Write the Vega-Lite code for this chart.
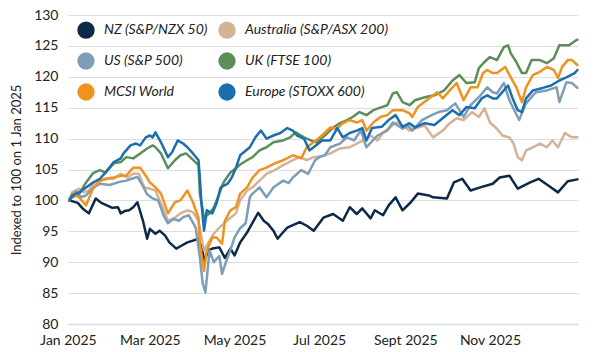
{
  "$schema": "https://vega.github.io/schema/vega-lite/v6.json",
  "width": 510,
  "height": 309,
  "autosize": "none",
  "padding": {"left": 68, "top": 15, "right": 22, "bottom": 28},
  "background": "white",
  "config": {
    "font": "Lato",
    "view": {"stroke": null},
    "axis": {"labelFont": "Lato", "titleFont": "Lato", "labelColor": "#222222", "titleColor": "#222222"}
  },
  "datasets": {
    "raw": [
      {"s":"NZ","d":"2025-01-02","v":100.0},{"s":"NZ","d":"2025-01-05","v":99.8},{"s":"NZ","d":"2025-01-08","v":99.6},{"s":"NZ","d":"2025-01-12","v":98.6},{"s":"NZ","d":"2025-01-16","v":97.9},{"s":"NZ","d":"2025-01-21","v":100.3},{"s":"NZ","d":"2025-01-25","v":99.6},{"s":"NZ","d":"2025-01-29","v":99.2},{"s":"NZ","d":"2025-02-02","v":98.8},{"s":"NZ","d":"2025-02-06","v":98.9},{"s":"NZ","d":"2025-02-08","v":97.9},{"s":"NZ","d":"2025-02-11","v":98.3},{"s":"NZ","d":"2025-02-14","v":98.4},{"s":"NZ","d":"2025-02-17","v":98.9},{"s":"NZ","d":"2025-02-20","v":99.7},{"s":"NZ","d":"2025-02-24","v":96.7},{"s":"NZ","d":"2025-02-27","v":93.8},{"s":"NZ","d":"2025-03-01","v":95.4},{"s":"NZ","d":"2025-03-05","v":94.6},{"s":"NZ","d":"2025-03-08","v":95.1},{"s":"NZ","d":"2025-03-12","v":94.3},{"s":"NZ","d":"2025-03-15","v":93.2},{"s":"NZ","d":"2025-03-20","v":92.2},{"s":"NZ","d":"2025-03-24","v":92.7},{"s":"NZ","d":"2025-03-28","v":93.2},{"s":"NZ","d":"2025-04-01","v":93.5},{"s":"NZ","d":"2025-04-05","v":93.8},{"s":"NZ","d":"2025-04-08","v":91.9},{"s":"NZ","d":"2025-04-09","v":90.0},{"s":"NZ","d":"2025-04-12","v":91.9},{"s":"NZ","d":"2025-04-15","v":92.2},{"s":"NZ","d":"2025-04-20","v":92.4},{"s":"NZ","d":"2025-04-24","v":90.7},{"s":"NZ","d":"2025-04-28","v":92.2},{"s":"NZ","d":"2025-05-01","v":91.1},{"s":"NZ","d":"2025-05-05","v":93.2},{"s":"NZ","d":"2025-05-10","v":94.8},{"s":"NZ","d":"2025-05-14","v":96.4},{"s":"NZ","d":"2025-05-18","v":98.0},{"s":"NZ","d":"2025-05-22","v":96.7},{"s":"NZ","d":"2025-05-25","v":96.2},{"s":"NZ","d":"2025-05-29","v":95.1},{"s":"NZ","d":"2025-06-01","v":93.8},{"s":"NZ","d":"2025-06-04","v":94.6},{"s":"NZ","d":"2025-06-08","v":95.6},{"s":"NZ","d":"2025-06-12","v":96.0},{"s":"NZ","d":"2025-06-17","v":96.5},{"s":"NZ","d":"2025-06-22","v":95.9},{"s":"NZ","d":"2025-06-27","v":95.1},{"s":"NZ","d":"2025-07-04","v":97.2},{"s":"NZ","d":"2025-07-11","v":97.8},{"s":"NZ","d":"2025-07-18","v":96.7},{"s":"NZ","d":"2025-07-23","v":98.9},{"s":"NZ","d":"2025-07-28","v":97.8},{"s":"NZ","d":"2025-08-01","v":98.7},{"s":"NZ","d":"2025-08-07","v":97.1},{"s":"NZ","d":"2025-08-10","v":98.4},{"s":"NZ","d":"2025-08-16","v":97.6},{"s":"NZ","d":"2025-08-20","v":99.2},{"s":"NZ","d":"2025-08-25","v":100.5},{"s":"NZ","d":"2025-08-30","v":98.4},{"s":"NZ","d":"2025-09-05","v":99.7},{"s":"NZ","d":"2025-09-10","v":101.1},{"s":"NZ","d":"2025-09-18","v":100.8},{"s":"NZ","d":"2025-09-21","v":100.5},{"s":"NZ","d":"2025-10-01","v":100.3},{"s":"NZ","d":"2025-10-06","v":102.9},{"s":"NZ","d":"2025-10-12","v":103.5},{"s":"NZ","d":"2025-10-18","v":101.6},{"s":"NZ","d":"2025-10-25","v":102.1},{"s":"NZ","d":"2025-11-03","v":102.7},{"s":"NZ","d":"2025-11-08","v":103.7},{"s":"NZ","d":"2025-11-15","v":104.0},{"s":"NZ","d":"2025-11-21","v":101.9},{"s":"NZ","d":"2025-11-30","v":102.9},{"s":"NZ","d":"2025-12-06","v":103.5},{"s":"NZ","d":"2025-12-13","v":102.4},{"s":"NZ","d":"2025-12-20","v":101.3},{"s":"NZ","d":"2025-12-27","v":103.1},{"s":"NZ","d":"2026-01-03","v":103.4},

      {"s":"AU","d":"2025-01-02","v":100.0},{"s":"AU","d":"2025-01-04","v":101.3},{"s":"AU","d":"2025-01-09","v":101.9},{"s":"AU","d":"2025-01-12","v":101.3},{"s":"AU","d":"2025-01-16","v":101.6},{"s":"AU","d":"2025-01-20","v":102.9},{"s":"AU","d":"2025-01-25","v":103.2},{"s":"AU","d":"2025-01-30","v":103.5},{"s":"AU","d":"2025-02-03","v":103.5},{"s":"AU","d":"2025-02-08","v":104.3},{"s":"AU","d":"2025-02-13","v":103.7},{"s":"AU","d":"2025-02-17","v":104.3},{"s":"AU","d":"2025-02-21","v":104.3},{"s":"AU","d":"2025-02-25","v":102.1},{"s":"AU","d":"2025-03-01","v":101.9},{"s":"AU","d":"2025-03-05","v":101.6},{"s":"AU","d":"2025-03-09","v":99.5},{"s":"AU","d":"2025-03-14","v":96.7},{"s":"AU","d":"2025-03-19","v":97.2},{"s":"AU","d":"2025-03-23","v":97.9},{"s":"AU","d":"2025-03-28","v":98.4},{"s":"AU","d":"2025-04-01","v":98.1},{"s":"AU","d":"2025-04-05","v":96.7},{"s":"AU","d":"2025-04-08","v":93.0},{"s":"AU","d":"2025-04-09","v":91.9},{"s":"AU","d":"2025-04-13","v":93.5},{"s":"AU","d":"2025-04-16","v":94.6},{"s":"AU","d":"2025-04-20","v":95.6},{"s":"AU","d":"2025-04-24","v":96.4},{"s":"AU","d":"2025-04-28","v":97.2},{"s":"AU","d":"2025-05-02","v":97.9},{"s":"AU","d":"2025-05-05","v":100.0},{"s":"AU","d":"2025-05-10","v":101.6},{"s":"AU","d":"2025-05-14","v":102.1},{"s":"AU","d":"2025-05-19","v":103.2},{"s":"AU","d":"2025-05-24","v":104.3},{"s":"AU","d":"2025-05-30","v":104.9},{"s":"AU","d":"2025-06-05","v":105.7},{"s":"AU","d":"2025-06-12","v":106.5},{"s":"AU","d":"2025-06-17","v":107.0},{"s":"AU","d":"2025-06-22","v":106.5},{"s":"AU","d":"2025-06-27","v":107.0},{"s":"AU","d":"2025-07-03","v":107.2},{"s":"AU","d":"2025-07-09","v":107.6},{"s":"AU","d":"2025-07-16","v":108.4},{"s":"AU","d":"2025-07-23","v":108.6},{"s":"AU","d":"2025-07-28","v":109.2},{"s":"AU","d":"2025-08-02","v":109.7},{"s":"AU","d":"2025-08-07","v":110.5},{"s":"AU","d":"2025-08-12","v":109.7},{"s":"AU","d":"2025-08-16","v":111.0},{"s":"AU","d":"2025-08-21","v":111.8},{"s":"AU","d":"2025-08-25","v":112.6},{"s":"AU","d":"2025-08-30","v":112.1},{"s":"AU","d":"2025-09-04","v":111.3},{"s":"AU","d":"2025-09-10","v":111.8},{"s":"AU","d":"2025-09-15","v":112.1},{"s":"AU","d":"2025-09-21","v":110.2},{"s":"AU","d":"2025-09-28","v":111.3},{"s":"AU","d":"2025-10-03","v":112.5},{"s":"AU","d":"2025-10-08","v":113.3},{"s":"AU","d":"2025-10-13","v":113.0},{"s":"AU","d":"2025-10-19","v":114.3},{"s":"AU","d":"2025-10-24","v":113.5},{"s":"AU","d":"2025-10-28","v":114.9},{"s":"AU","d":"2025-11-01","v":112.6},{"s":"AU","d":"2025-11-06","v":111.6},{"s":"AU","d":"2025-11-10","v":110.5},{"s":"AU","d":"2025-11-15","v":110.2},{"s":"AU","d":"2025-11-18","v":109.2},{"s":"AU","d":"2025-11-21","v":107.0},{"s":"AU","d":"2025-11-24","v":106.5},{"s":"AU","d":"2025-11-27","v":108.1},{"s":"AU","d":"2025-12-02","v":108.6},{"s":"AU","d":"2025-12-07","v":109.2},{"s":"AU","d":"2025-12-12","v":108.6},{"s":"AU","d":"2025-12-16","v":109.7},{"s":"AU","d":"2025-12-20","v":108.6},{"s":"AU","d":"2025-12-25","v":110.9},{"s":"AU","d":"2025-12-30","v":110.2},{"s":"AU","d":"2026-01-03","v":110.2},

      {"s":"US","d":"2025-01-02","v":100.3},{"s":"US","d":"2025-01-07","v":101.5},{"s":"US","d":"2025-01-10","v":100.5},{"s":"US","d":"2025-01-14","v":100.8},{"s":"US","d":"2025-01-19","v":102.0},{"s":"US","d":"2025-01-24","v":102.7},{"s":"US","d":"2025-01-31","v":102.5},{"s":"US","d":"2025-02-07","v":103.0},{"s":"US","d":"2025-02-12","v":103.2},{"s":"US","d":"2025-02-16","v":103.5},{"s":"US","d":"2025-02-20","v":103.8},{"s":"US","d":"2025-02-24","v":102.3},{"s":"US","d":"2025-02-27","v":101.0},{"s":"US","d":"2025-03-03","v":100.3},{"s":"US","d":"2025-03-07","v":100.0},{"s":"US","d":"2025-03-11","v":97.5},{"s":"US","d":"2025-03-14","v":96.3},{"s":"US","d":"2025-03-18","v":97.0},{"s":"US","d":"2025-03-22","v":96.7},{"s":"US","d":"2025-03-25","v":97.3},{"s":"US","d":"2025-03-29","v":97.6},{"s":"US","d":"2025-03-31","v":96.8},{"s":"US","d":"2025-04-03","v":95.6},{"s":"US","d":"2025-04-06","v":90.8},{"s":"US","d":"2025-04-08","v":86.6},{"s":"US","d":"2025-04-10","v":85.1},{"s":"US","d":"2025-04-13","v":91.9},{"s":"US","d":"2025-04-16","v":90.0},{"s":"US","d":"2025-04-20","v":91.0},{"s":"US","d":"2025-04-22","v":88.1},{"s":"US","d":"2025-04-24","v":89.5},{"s":"US","d":"2025-04-28","v":92.0},{"s":"US","d":"2025-05-01","v":94.0},{"s":"US","d":"2025-05-05","v":95.5},{"s":"US","d":"2025-05-09","v":96.3},{"s":"US","d":"2025-05-12","v":100.5},{"s":"US","d":"2025-05-14","v":101.1},{"s":"US","d":"2025-05-19","v":102.1},{"s":"US","d":"2025-05-24","v":100.5},{"s":"US","d":"2025-05-29","v":102.1},{"s":"US","d":"2025-06-05","v":103.2},{"s":"US","d":"2025-06-09","v":102.8},{"s":"US","d":"2025-06-12","v":103.7},{"s":"US","d":"2025-06-18","v":104.9},{"s":"US","d":"2025-06-23","v":104.3},{"s":"US","d":"2025-06-28","v":106.5},{"s":"US","d":"2025-07-01","v":107.0},{"s":"US","d":"2025-07-05","v":107.3},{"s":"US","d":"2025-07-09","v":108.6},{"s":"US","d":"2025-07-16","v":109.2},{"s":"US","d":"2025-07-21","v":110.2},{"s":"US","d":"2025-07-26","v":109.7},{"s":"US","d":"2025-07-31","v":111.3},{"s":"US","d":"2025-08-04","v":108.6},{"s":"US","d":"2025-08-12","v":110.5},{"s":"US","d":"2025-08-19","v":111.3},{"s":"US","d":"2025-08-23","v":112.6},{"s":"US","d":"2025-08-30","v":111.6},{"s":"US","d":"2025-09-03","v":112.1},{"s":"US","d":"2025-09-06","v":111.3},{"s":"US","d":"2025-09-13","v":113.0},{"s":"US","d":"2025-09-20","v":113.8},{"s":"US","d":"2025-09-25","v":114.3},{"s":"US","d":"2025-10-01","v":114.6},{"s":"US","d":"2025-10-07","v":115.7},{"s":"US","d":"2025-10-13","v":113.5},{"s":"US","d":"2025-10-18","v":115.4},{"s":"US","d":"2025-10-24","v":116.7},{"s":"US","d":"2025-10-30","v":118.3},{"s":"US","d":"2025-11-03","v":117.5},{"s":"US","d":"2025-11-06","v":117.3},{"s":"US","d":"2025-11-11","v":119.0},{"s":"US","d":"2025-11-15","v":116.2},{"s":"US","d":"2025-11-22","v":113.0},{"s":"US","d":"2025-11-27","v":115.7},{"s":"US","d":"2025-12-04","v":117.5},{"s":"US","d":"2025-12-12","v":117.8},{"s":"US","d":"2025-12-19","v":118.3},{"s":"US","d":"2025-12-21","v":115.9},{"s":"US","d":"2025-12-26","v":119.1},{"s":"US","d":"2025-12-30","v":119.0},{"s":"US","d":"2026-01-03","v":118.2},

      {"s":"UK","d":"2025-01-02","v":100.0},{"s":"UK","d":"2025-01-04","v":100.5},{"s":"UK","d":"2025-01-09","v":101.0},{"s":"UK","d":"2025-01-14","v":102.9},{"s":"UK","d":"2025-01-19","v":104.4},{"s":"UK","d":"2025-01-24","v":104.9},{"s":"UK","d":"2025-01-28","v":104.5},{"s":"UK","d":"2025-02-03","v":106.0},{"s":"UK","d":"2025-02-08","v":106.2},{"s":"UK","d":"2025-02-12","v":107.0},{"s":"UK","d":"2025-02-17","v":106.8},{"s":"UK","d":"2025-02-22","v":107.6},{"s":"UK","d":"2025-02-27","v":108.4},{"s":"UK","d":"2025-03-03","v":108.9},{"s":"UK","d":"2025-03-05","v":108.6},{"s":"UK","d":"2025-03-09","v":107.6},{"s":"UK","d":"2025-03-14","v":105.2},{"s":"UK","d":"2025-03-19","v":106.5},{"s":"UK","d":"2025-03-23","v":107.3},{"s":"UK","d":"2025-03-27","v":107.6},{"s":"UK","d":"2025-03-30","v":107.0},{"s":"UK","d":"2025-04-05","v":105.7},{"s":"UK","d":"2025-04-06","v":101.1},{"s":"UK","d":"2025-04-09","v":97.2},{"s":"UK","d":"2025-04-13","v":97.9},{"s":"UK","d":"2025-04-16","v":98.8},{"s":"UK","d":"2025-04-20","v":101.1},{"s":"UK","d":"2025-04-23","v":102.9},{"s":"UK","d":"2025-04-28","v":104.5},{"s":"UK","d":"2025-05-02","v":105.2},{"s":"UK","d":"2025-05-05","v":105.8},{"s":"UK","d":"2025-05-10","v":106.5},{"s":"UK","d":"2025-05-14","v":107.0},{"s":"UK","d":"2025-05-19","v":108.1},{"s":"UK","d":"2025-05-24","v":108.6},{"s":"UK","d":"2025-05-29","v":109.4},{"s":"UK","d":"2025-06-05","v":109.7},{"s":"UK","d":"2025-06-10","v":110.2},{"s":"UK","d":"2025-06-14","v":111.0},{"s":"UK","d":"2025-06-20","v":110.2},{"s":"UK","d":"2025-06-25","v":109.7},{"s":"UK","d":"2025-06-29","v":109.4},{"s":"UK","d":"2025-07-05","v":110.5},{"s":"UK","d":"2025-07-11","v":111.8},{"s":"UK","d":"2025-07-16","v":112.5},{"s":"UK","d":"2025-07-21","v":113.0},{"s":"UK","d":"2025-07-25","v":113.5},{"s":"UK","d":"2025-07-30","v":114.3},{"s":"UK","d":"2025-08-04","v":113.8},{"s":"UK","d":"2025-08-09","v":114.6},{"s":"UK","d":"2025-08-15","v":115.1},{"s":"UK","d":"2025-08-19","v":115.4},{"s":"UK","d":"2025-08-23","v":117.3},{"s":"UK","d":"2025-08-26","v":117.5},{"s":"UK","d":"2025-08-30","v":115.9},{"s":"UK","d":"2025-09-04","v":115.4},{"s":"UK","d":"2025-09-08","v":116.2},{"s":"UK","d":"2025-09-15","v":116.7},{"s":"UK","d":"2025-09-22","v":117.0},{"s":"UK","d":"2025-09-29","v":117.8},{"s":"UK","d":"2025-10-05","v":119.4},{"s":"UK","d":"2025-10-10","v":120.3},{"s":"UK","d":"2025-10-15","v":119.0},{"s":"UK","d":"2025-10-21","v":119.1},{"s":"UK","d":"2025-10-24","v":121.4},{"s":"UK","d":"2025-10-28","v":122.4},{"s":"UK","d":"2025-11-01","v":123.2},{"s":"UK","d":"2025-11-06","v":122.7},{"s":"UK","d":"2025-11-11","v":124.8},{"s":"UK","d":"2025-11-14","v":125.1},{"s":"UK","d":"2025-11-16","v":123.8},{"s":"UK","d":"2025-11-20","v":122.4},{"s":"UK","d":"2025-11-24","v":120.6},{"s":"UK","d":"2025-11-27","v":120.6},{"s":"UK","d":"2025-12-01","v":122.7},{"s":"UK","d":"2025-12-07","v":122.7},{"s":"UK","d":"2025-12-12","v":122.2},{"s":"UK","d":"2025-12-17","v":123.0},{"s":"UK","d":"2025-12-21","v":125.1},{"s":"UK","d":"2025-12-28","v":125.1},{"s":"UK","d":"2026-01-02","v":125.9},{"s":"UK","d":"2026-01-03","v":126.0},

      {"s":"MSCI","d":"2025-01-02","v":100.0},{"s":"MSCI","d":"2025-01-04","v":101.1},{"s":"MSCI","d":"2025-01-09","v":100.5},{"s":"MSCI","d":"2025-01-14","v":99.2},{"s":"MSCI","d":"2025-01-19","v":101.9},{"s":"MSCI","d":"2025-01-24","v":103.2},{"s":"MSCI","d":"2025-01-28","v":103.5},{"s":"MSCI","d":"2025-02-03","v":103.7},{"s":"MSCI","d":"2025-02-08","v":104.0},{"s":"MSCI","d":"2025-02-12","v":104.0},{"s":"MSCI","d":"2025-02-17","v":105.3},{"s":"MSCI","d":"2025-02-22","v":105.3},{"s":"MSCI","d":"2025-02-26","v":104.0},{"s":"MSCI","d":"2025-03-01","v":102.9},{"s":"MSCI","d":"2025-03-05","v":102.1},{"s":"MSCI","d":"2025-03-09","v":101.1},{"s":"MSCI","d":"2025-03-14","v":97.9},{"s":"MSCI","d":"2025-03-19","v":99.7},{"s":"MSCI","d":"2025-03-23","v":100.0},{"s":"MSCI","d":"2025-03-28","v":101.6},{"s":"MSCI","d":"2025-04-01","v":99.7},{"s":"MSCI","d":"2025-04-05","v":97.2},{"s":"MSCI","d":"2025-04-06","v":93.0},{"s":"MSCI","d":"2025-04-09","v":88.6},{"s":"MSCI","d":"2025-04-11","v":91.9},{"s":"MSCI","d":"2025-04-15","v":94.0},{"s":"MSCI","d":"2025-04-18","v":94.0},{"s":"MSCI","d":"2025-04-22","v":93.0},{"s":"MSCI","d":"2025-04-24","v":96.7},{"s":"MSCI","d":"2025-04-28","v":98.4},{"s":"MSCI","d":"2025-05-02","v":98.9},{"s":"MSCI","d":"2025-05-05","v":101.1},{"s":"MSCI","d":"2025-05-10","v":102.1},{"s":"MSCI","d":"2025-05-14","v":103.7},{"s":"MSCI","d":"2025-05-19","v":104.9},{"s":"MSCI","d":"2025-05-24","v":105.3},{"s":"MSCI","d":"2025-05-30","v":106.0},{"s":"MSCI","d":"2025-06-05","v":106.5},{"s":"MSCI","d":"2025-06-12","v":107.3},{"s":"MSCI","d":"2025-06-18","v":106.8},{"s":"MSCI","d":"2025-06-22","v":108.6},{"s":"MSCI","d":"2025-06-27","v":109.4},{"s":"MSCI","d":"2025-07-03","v":110.5},{"s":"MSCI","d":"2025-07-09","v":111.8},{"s":"MSCI","d":"2025-07-14","v":111.6},{"s":"MSCI","d":"2025-07-18","v":112.5},{"s":"MSCI","d":"2025-07-23","v":113.0},{"s":"MSCI","d":"2025-07-28","v":112.6},{"s":"MSCI","d":"2025-08-01","v":113.0},{"s":"MSCI","d":"2025-08-04","v":111.3},{"s":"MSCI","d":"2025-08-09","v":112.6},{"s":"MSCI","d":"2025-08-14","v":113.5},{"s":"MSCI","d":"2025-08-19","v":113.8},{"s":"MSCI","d":"2025-08-23","v":114.6},{"s":"MSCI","d":"2025-08-30","v":114.6},{"s":"MSCI","d":"2025-09-04","v":114.1},{"s":"MSCI","d":"2025-09-06","v":113.5},{"s":"MSCI","d":"2025-09-10","v":115.1},{"s":"MSCI","d":"2025-09-18","v":116.5},{"s":"MSCI","d":"2025-09-24","v":117.5},{"s":"MSCI","d":"2025-09-28","v":116.5},{"s":"MSCI","d":"2025-10-03","v":117.8},{"s":"MSCI","d":"2025-10-08","v":119.0},{"s":"MSCI","d":"2025-10-13","v":116.2},{"s":"MSCI","d":"2025-10-18","v":118.3},{"s":"MSCI","d":"2025-10-23","v":118.3},{"s":"MSCI","d":"2025-10-27","v":120.6},{"s":"MSCI","d":"2025-10-30","v":121.1},{"s":"MSCI","d":"2025-11-03","v":120.6},{"s":"MSCI","d":"2025-11-06","v":120.6},{"s":"MSCI","d":"2025-11-12","v":121.6},{"s":"MSCI","d":"2025-11-15","v":120.3},{"s":"MSCI","d":"2025-11-20","v":118.3},{"s":"MSCI","d":"2025-11-24","v":115.9},{"s":"MSCI","d":"2025-11-27","v":118.3},{"s":"MSCI","d":"2025-12-02","v":120.3},{"s":"MSCI","d":"2025-12-07","v":120.8},{"s":"MSCI","d":"2025-12-12","v":121.6},{"s":"MSCI","d":"2025-12-17","v":121.1},{"s":"MSCI","d":"2025-12-20","v":119.8},{"s":"MSCI","d":"2025-12-23","v":121.6},{"s":"MSCI","d":"2025-12-27","v":122.7},{"s":"MSCI","d":"2025-12-30","v":122.7},{"s":"MSCI","d":"2026-01-03","v":121.9},

      {"s":"EU","d":"2025-01-02","v":100.0},{"s":"EU","d":"2025-01-04","v":100.8},{"s":"EU","d":"2025-01-09","v":101.3},{"s":"EU","d":"2025-01-14","v":102.1},{"s":"EU","d":"2025-01-19","v":102.9},{"s":"EU","d":"2025-01-24","v":103.5},{"s":"EU","d":"2025-01-28","v":104.5},{"s":"EU","d":"2025-02-03","v":106.2},{"s":"EU","d":"2025-02-08","v":106.8},{"s":"EU","d":"2025-02-10","v":107.6},{"s":"EU","d":"2025-02-15","v":108.9},{"s":"EU","d":"2025-02-19","v":109.2},{"s":"EU","d":"2025-02-22","v":108.9},{"s":"EU","d":"2025-02-26","v":110.2},{"s":"EU","d":"2025-03-01","v":110.5},{"s":"EU","d":"2025-03-03","v":110.2},{"s":"EU","d":"2025-03-05","v":111.0},{"s":"EU","d":"2025-03-09","v":109.4},{"s":"EU","d":"2025-03-14","v":107.0},{"s":"EU","d":"2025-03-17","v":107.8},{"s":"EU","d":"2025-03-21","v":109.7},{"s":"EU","d":"2025-03-25","v":109.2},{"s":"EU","d":"2025-03-28","v":108.6},{"s":"EU","d":"2025-04-01","v":107.6},{"s":"EU","d":"2025-04-05","v":106.5},{"s":"EU","d":"2025-04-06","v":103.7},{"s":"EU","d":"2025-04-07","v":100.0},{"s":"EU","d":"2025-04-09","v":95.1},{"s":"EU","d":"2025-04-11","v":98.4},{"s":"EU","d":"2025-04-15","v":97.9},{"s":"EU","d":"2025-04-18","v":99.5},{"s":"EU","d":"2025-04-21","v":102.1},{"s":"EU","d":"2025-04-26","v":102.7},{"s":"EU","d":"2025-04-29","v":103.7},{"s":"EU","d":"2025-05-02","v":105.3},{"s":"EU","d":"2025-05-05","v":107.3},{"s":"EU","d":"2025-05-12","v":108.6},{"s":"EU","d":"2025-05-16","v":110.2},{"s":"EU","d":"2025-05-20","v":111.3},{"s":"EU","d":"2025-05-24","v":110.0},{"s":"EU","d":"2025-05-29","v":110.5},{"s":"EU","d":"2025-06-03","v":110.9},{"s":"EU","d":"2025-06-08","v":111.7},{"s":"EU","d":"2025-06-12","v":111.3},{"s":"EU","d":"2025-06-15","v":110.5},{"s":"EU","d":"2025-06-20","v":110.0},{"s":"EU","d":"2025-06-24","v":108.1},{"s":"EU","d":"2025-06-27","v":108.6},{"s":"EU","d":"2025-07-03","v":109.7},{"s":"EU","d":"2025-07-09","v":109.7},{"s":"EU","d":"2025-07-14","v":111.7},{"s":"EU","d":"2025-07-18","v":110.2},{"s":"EU","d":"2025-07-23","v":110.9},{"s":"EU","d":"2025-07-28","v":111.3},{"s":"EU","d":"2025-08-01","v":111.7},{"s":"EU","d":"2025-08-04","v":109.7},{"s":"EU","d":"2025-08-08","v":111.7},{"s":"EU","d":"2025-08-15","v":111.9},{"s":"EU","d":"2025-08-20","v":113.0},{"s":"EU","d":"2025-08-25","v":113.8},{"s":"EU","d":"2025-08-30","v":111.9},{"s":"EU","d":"2025-09-04","v":112.5},{"s":"EU","d":"2025-09-08","v":111.8},{"s":"EU","d":"2025-09-15","v":112.5},{"s":"EU","d":"2025-09-22","v":112.2},{"s":"EU","d":"2025-09-29","v":113.5},{"s":"EU","d":"2025-10-05","v":114.6},{"s":"EU","d":"2025-10-10","v":113.8},{"s":"EU","d":"2025-10-15","v":115.1},{"s":"EU","d":"2025-10-21","v":114.9},{"s":"EU","d":"2025-10-26","v":116.5},{"s":"EU","d":"2025-10-30","v":117.0},{"s":"EU","d":"2025-11-03","v":116.5},{"s":"EU","d":"2025-11-06","v":116.5},{"s":"EU","d":"2025-11-14","v":118.6},{"s":"EU","d":"2025-11-17","v":116.7},{"s":"EU","d":"2025-11-21","v":114.6},{"s":"EU","d":"2025-11-24","v":114.3},{"s":"EU","d":"2025-11-27","v":116.5},{"s":"EU","d":"2025-12-02","v":117.8},{"s":"EU","d":"2025-12-09","v":118.2},{"s":"EU","d":"2025-12-15","v":118.6},{"s":"EU","d":"2025-12-21","v":119.4},{"s":"EU","d":"2025-12-26","v":119.9},{"s":"EU","d":"2026-01-01","v":120.6},{"s":"EU","d":"2026-01-03","v":121.1}
    ],
    "names": [
      {"s":"NZ","name":"NZ (S&P/NZX 50)"},
      {"s":"AU","name":"Australia (S&P/ASX 200)"},
      {"s":"US","name":"US (S&P 500)"},
      {"s":"UK","name":"UK (FTSE 100)"},
      {"s":"MSCI","name":"MCSI World"},
      {"s":"EU","name":"Europe (STOXX 600)"}
    ]
  },
  "data": {"name": "raw"},
  "transform": [
    {"lookup": "s", "from": {"data": {"name": "names"}, "key": "s", "fields": ["name"]}}
  ],
  "mark": {"type": "line", "strokeWidth": 2.5, "strokeJoin": "round", "strokeCap": "round"},
  "encoding": {
    "x": {
      "field": "d", "type": "temporal",
      "scale": {"type": "utc", "domain": [{"year": 2025, "month": 1, "date": 1, "utc": true}, {"year": 2026, "month": 1, "date": 3, "hours": 10, "utc": true}]},
      "axis": {
        "title": null,
        "grid": false,
        "ticks": false,
        "domain": true,
        "domainColor": "#d3deed",
        "domainWidth": 1.5,
        "labelFontSize": 14,
        "labelPadding": 9,
        "labelFlush": false,
        "labelOverlap": false,
        "values": [
          {"year": 2025, "month": 1, "date": 1, "utc": true},
          {"year": 2025, "month": 3, "date": 1, "utc": true},
          {"year": 2025, "month": 5, "date": 1, "utc": true},
          {"year": 2025, "month": 7, "date": 1, "utc": true},
          {"year": 2025, "month": 9, "date": 1, "utc": true},
          {"year": 2025, "month": 11, "date": 1, "utc": true}
        ],
        "labelExpr": "utcFormat(datum.value, '%m') == '09' ? 'Sept ' + utcFormat(datum.value, '%Y') : utcFormat(datum.value, '%b %Y')"
      }
    },
    "y": {
      "field": "v", "type": "quantitative",
      "scale": {"domain": [80, 130], "nice": false, "zero": false},
      "axis": {
        "title": "Indexed to 100 on 1 Jan 2025",
        "titleFontSize": 13,
        "titleFontWeight": "normal",
        "titlePadding": 10,
        "values": [80, 85, 90, 95, 100, 105, 110, 115, 120, 125, 130],
        "domain": false,
        "ticks": false,
        "grid": true,
        "gridColor": "#dedede",
        "gridWidth": 1,
        "labelFontSize": 14,
        "labelPadding": 10
      }
    },
    "color": {
      "field": "name", "type": "nominal",
      "sort": ["NZ (S&P/NZX 50)", "Australia (S&P/ASX 200)", "US (S&P 500)", "UK (FTSE 100)", "MCSI World", "Europe (STOXX 600)"],
      "scale": {
        "domain": ["NZ (S&P/NZX 50)", "Australia (S&P/ASX 200)", "US (S&P 500)", "UK (FTSE 100)", "MCSI World", "Europe (STOXX 600)"],
        "range": ["#0c2a48", "#d3b296", "#7d9eb6", "#5b8e59", "#f0921f", "#1b6fae"]
      },
      "legend": {
        "title": null,
        "orient": "none",
        "legendX": 9,
        "legendY": 6,
        "columns": 2,
        "direction": "horizontal",
        "padding": 0,
        "symbolType": "circle",
        "symbolSize": 300,
        "symbolStrokeWidth": 0,
        "labelFont": "Lato",
        "labelFontStyle": "italic",
        "labelFontSize": 14,
        "labelColor": "#222222",
        "labelOffset": 9,
        "columnPadding": 10,
        "rowPadding": 13,
        "labelLimit": 300,
        "encode": {"symbols": {"update": {"fill": {"scale": "color", "field": "value"}, "opacity": {"value": 1}}}}
      }
    }
  }
}
